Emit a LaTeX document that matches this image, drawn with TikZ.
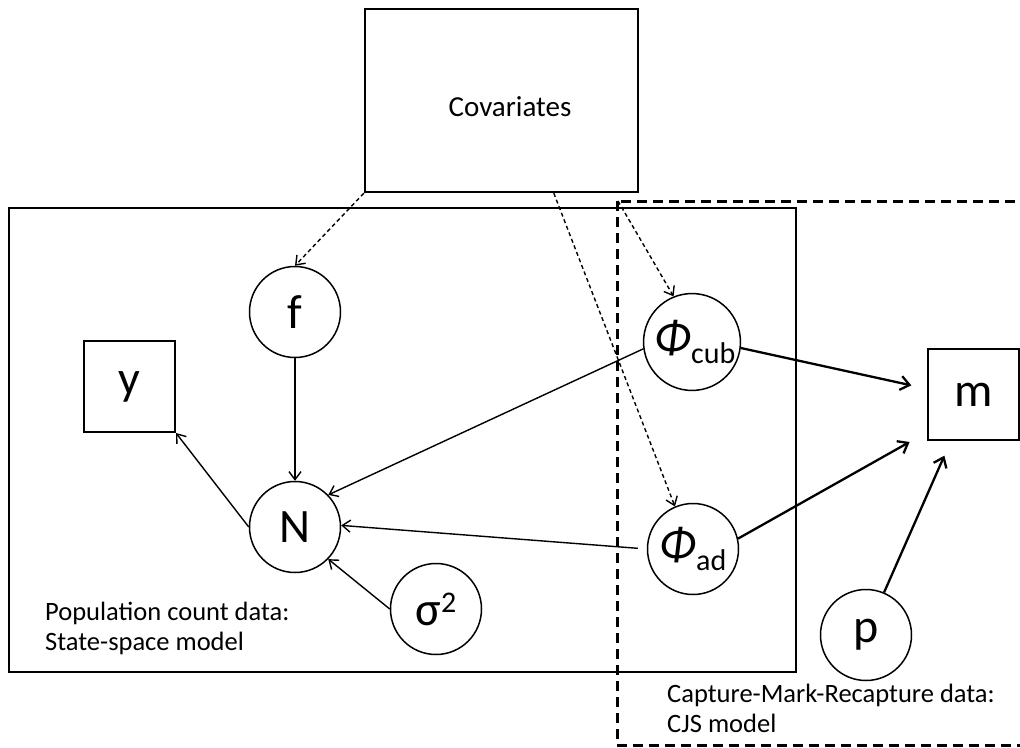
\documentclass[tikz,border=0pt]{standalone}
\usepackage{fontspec}
\setmainfont{Carlito}
\usetikzlibrary{arrows.meta,calc}
\begin{document}
\begin{tikzpicture}[x=1pt,y=-1pt,
  var/.style={circle,draw,line width=1.5pt,minimum size=91pt,inner sep=0pt,font=\fontsize{48}{48}\selectfont},
  obs/.style={rectangle,draw,line width=2pt,minimum size=91pt,inner sep=0pt,font=\fontsize{48}{48}\selectfont},
  lbl/.style={anchor=base west,inner sep=0pt,font=\fontsize{26.5}{30}\selectfont},
  thin/.style={line width=1.4pt,-{Straight Barb[length=8pt,width=12pt,line width=1.4pt]}},
  thindash/.style={thin,dash pattern=on 4pt off 3pt},
  thick/.style={line width=2.3pt,-{Straight Barb[length=9pt,width=14pt,line width=2.3pt]}},
]
\useasboundingbox (0,0) rectangle (1020,747);
% frames
\draw[line width=2.6pt] (9,208) rectangle (796,672);
\draw[line width=3pt,dash pattern=on 10pt off 6pt] (617,201) rectangle (1040,745);
\coordinate (cjscorner) at (618,201);
% covariates
\node[draw,line width=2.4pt,minimum width=273pt,minimum height=183pt,inner sep=0pt] (cov) at (501.5,100.5) {};
\node[inner sep=0pt,font=\fontsize{29}{29}\selectfont] (covtxt) at (510,107) {Covariates};
% variables
\node[var] (f) at (295,312) {f};
\node[var] (N) at (295,527) {N};
\node[obs] (y) at (129.5,386.5) {y};
\node[var] (s) at (436,609) {σ\raisebox{13pt}{\fontsize{30}{30}\selectfont 2}};
\node[var] (pc) at (692,342) {\hspace*{6pt}{\itshape Φ}\raisebox{-10pt}{\fontsize{30}{30}\selectfont cub}};
\node[var] (pa) at (693,549) {{\itshape Φ}\raisebox{-10pt}{\fontsize{30}{30}\selectfont ad}};
\node[obs] (m) at (973.5,394.5) {m};
\node[var] (p) at (866,635) {p};
% labels
\node[lbl] (l1) at (45,620) {Population count data:};
\node[lbl] (l2) at (45,650) {State-space model};
\node[lbl] (l3) at (667,702) {Capture-Mark-Recapture data:};
\node[lbl] (l4) at (667,732) {CJS model};
% dashed arrows
\draw[thindash] (cov.south west) -- (f.north);
\draw[thindash] ($(cov.south west)+(190,0)$) -- (pa.113);
\draw[thindash] (cjscorner) -- (pc.112);
% thin arrows
\draw[thin] (f) -- (N);
\draw[thin] (N.west) -- (y.south east);
\draw[thin] (pc.188) -- (N.44);
\draw[thin,shorten <=9pt] (pa.west) -- (N.2);
\draw[thin] (s.west) -- (N.-44);
% thick arrows
\draw[thick,shorten >=16pt] (pc.-7) -- (m.173);
\draw[thick,shorten >=20pt] (pa.13) -- (m.219);
\draw[thick,shorten >=16pt] (p.67) -- (m.244);
\end{tikzpicture}
\end{document}
